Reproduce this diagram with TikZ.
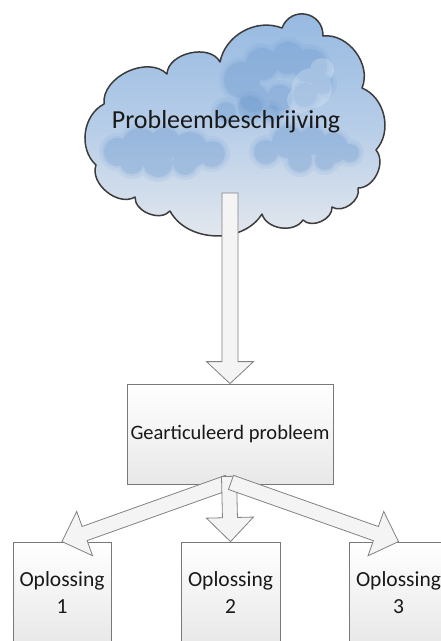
\documentclass[tikz,border=0pt]{standalone}
\usepackage{fontspec}
\setmainfont{Carlito}
\usetikzlibrary{calc}
\definecolor{cloudline}{RGB}{60,60,60}
\definecolor{cloudtop}{RGB}{150,185,225}
\definecolor{cloudmid}{RGB}{182,205,232}
\definecolor{cloudbot}{RGB}{228,232,238}
\definecolor{blobdark}{RGB}{100,148,205}
\definecolor{boxline}{RGB}{120,120,120}
\definecolor{boxbot}{RGB}{232,232,232}
\definecolor{arrfill}{RGB}{244,244,244}
\definecolor{arrline}{RGB}{130,130,130}
\definecolor{txt}{RGB}{25,25,25}
\newcommand{\cloudpath}{(96,165) to[bend left=55] (104,104) to[bend left=70] (167,74)
  to[bend left=75] (220,62) to[bend left=50] (282,28) to[bend left=80,looseness=1.5] (323,36)
  to[bend left=60] (362,88) to[bend left=55] (376,150) to[bend left=65] (358,188)
  to[bend left=70] (332,207) to[bend left=70] (303,220) to[bend left=65] (262,214)
  to[bend left=60] (170,211) to[bend left=70] (135,197) to[bend left=70] (96,165) -- cycle}
\newcommand{\softblob}[2]{%
  \fill[#1, opacity=0.10] foreach \bx/\by/\br in {#2} {(\bx,\by) circle ({\br+5})};
  \fill[#1, opacity=0.10] foreach \bx/\by/\br in {#2} {(\bx,\by) circle ({\br+2})};
  \fill[#1, opacity=0.22] foreach \bx/\by/\br in {#2} {(\bx,\by) circle (\br)};}
\newcommand{\blockarr}[5]{%
  \coordinate (hb) at ($(#2)!#5!(#1)$);
  \draw[blockarrow] ($(#1)!#3!90:(#2)$) -- ($(hb)!#3!90:(#2)$) -- ($(hb)!#4!90:(#2)$)
    -- (#2) -- ($(hb)!#4!-90:(#2)$) -- ($(hb)!#3!-90:(#2)$) -- ($(#1)!#3!-90:(#2)$) -- cycle;}
\begin{document}
\begin{tikzpicture}[x=1pt,y=-1pt,
  solbox/.style={draw=boxline, line width=0.8pt, top color=white, bottom color=boxbot,
    text=txt, align=center, font=\fontsize{20.5}{27}\selectfont, inner sep=0pt},
  blockarrow/.style={draw=arrline, fill=arrfill, line width=0.8pt, line join=miter}]
\clip (0,0) rectangle (441,641);
\fill[white] (0,0) rectangle (441,641);
% cloud
\begin{scope}
  \clip \cloudpath;
  \shade[top color=cloudtop, bottom color=cloudbot, middle color=cloudmid] (80,10) rectangle (390,240);
  % left lower puff
  \softblob{blobdark}{118/152/14, 140/146/18, 165/144/16, 190/150/18, 212/154/13, 158/162/15, 132/162/12, 185/163/12}
  % right lower puff
  \softblob{blobdark}{266/152/12, 288/142/16, 312/141/14, 333/148/15, 350/153/9, 300/160/12, 325/160/10}
  % small middle puff
  \softblob{blobdark}{226/112/10, 250/108/12, 271/113/8}
  % upper right puff
  \softblob{blobdark}{242/80/18, 262/64/16, 288/58/16, 310/66/17, 254/98/14, 280/98/13, 305/95/12, 322/84/10}
  \fill[white, opacity=0.22] (312,88) circle (20) (300,100) circle (13) (322,70) circle (12);
\end{scope}
\draw[cloudline, line width=1.5pt, line join=round] \cloudpath;
\node[text=txt, font=\fontsize{26}{30}\selectfont, inner sep=0pt] (cloudtxt) at (226,122) {Probleembeschrijving};
% boxes
\node[solbox, minimum width=206pt, minimum height=100pt] (gp) at (230,434) {Gearticuleerd probleem};
\node[solbox, font=\fontsize{21.5}{27}\selectfont, minimum width=98pt, minimum height=101pt] (o1) at (62,592.5) {Oplossing\\1};
\node[solbox, font=\fontsize{21.5}{27}\selectfont, minimum width=99pt, minimum height=101pt] (o2) at (230.5,592.5) {Oplossing\\2};
\node[solbox, font=\fontsize{21.5}{27}\selectfont, minimum width=99pt, minimum height=101pt] (o3) at (398.5,592.5) {Oplossing\\3};
% connectors
\coordinate (ctail) at (gp.north |- 0,193);
\coordinate (t1) at ($(gp.south)+(-2,-2)$);
\coordinate (t2) at ($(gp.south)+(-1,-8)$);
\coordinate (t3) at ($(gp.south)+(1,-2)$);
\blockarr{ctail}{gp.north}{8pt}{23.5pt}{22pt}
\blockarr{t1}{o1.north}{7.5pt}{23.5pt}{24pt}
\blockarr{t2}{o2.north}{7.5pt}{23.5pt}{24pt}
\blockarr{t3}{o3.north}{7.5pt}{23.5pt}{24pt}
\end{tikzpicture}
\end{document}
